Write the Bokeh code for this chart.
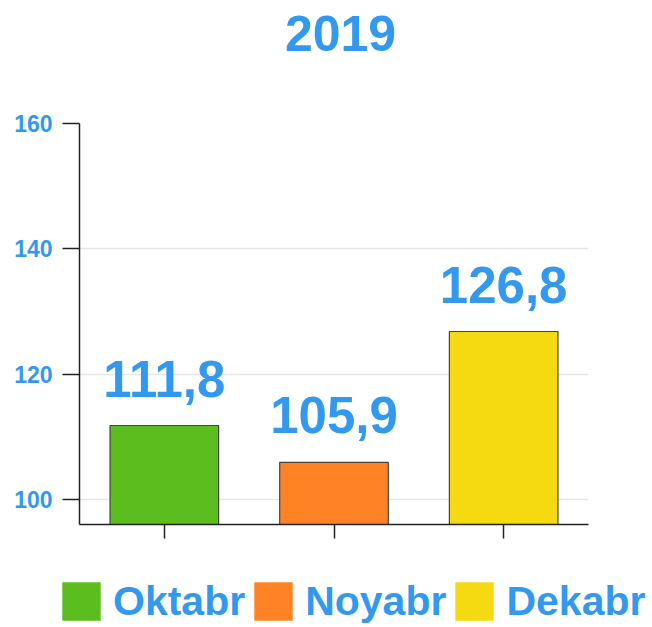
from bokeh.plotting import figure
from bokeh.models import ColumnDataSource, Legend, LegendItem, FactorRange, Label
from bokeh.layouts import column
from bokeh.core.properties import value
from bokeh.embed import file_html
from bokeh.resources import INLINE

# data
months = ["Oktabr", "Noyabr", "Dekabr"]
values = [111.8, 105.9, 126.8]
value_labels = ["111,8", "105,9", "126,8"]
colors = ["#5cbd1e", "#ff8225", "#f5da12"]
y_ticks = [100, 120, 140, 160]
title_text = "2019"

BLUE = "#3399ee"
FONT = "Liberation Sans"
W = 648

src = ColumnDataSource(dict(months=months, values=values, labels=value_labels, colors=colors))

# title strip
tt = figure(x_range=(0, W), y_range=(0, 100), width=W, height=100,
            output_backend="svg", toolbar_location=None, min_border=0,
            x_axis_location=None, y_axis_location=None, outline_line_color=None,
            frame_align=False)
tt.grid.visible = False
tt.add_layout(Label(x=340, y=67, text=title_text, text_align="center",
                    text_baseline="alphabetic", text_font=FONT,
                    text_font_size="50px", text_font_style="bold", text_color=BLUE))

# main chart
p = figure(x_range=FactorRange(*months, range_padding=0), y_range=(96, 160),
           width=W, height=465, output_backend="svg", toolbar_location=None,
           min_border_left=79, min_border_right=W - 588, min_border_top=23, min_border_bottom=41,
           frame_align=False)

p.outline_line_color = None
p.background_fill_color = "white"
p.border_fill_color = "white"

bars = p.vbar(x="months", top="values", bottom=96, width=0.64, source=src,
              fill_color="colors", line_color="#444444", line_width=1.2)

p.text(x="months", y="values", text="labels", source=src,
       text_align="center", text_baseline="alphabetic", y_offset=-47,
       text_font=value(FONT), text_font_size="51px", text_font_style="bold",
       text_color=BLUE)

p.yaxis.ticker = y_ticks
p.yaxis.major_tick_out = 17
p.yaxis.major_tick_in = 0
p.yaxis.minor_tick_line_color = None
p.yaxis.axis_line_color = "#222222"
p.yaxis.axis_line_width = 1.5
p.yaxis.major_tick_line_color = "#222222"
p.yaxis.major_tick_line_width = 1.5
p.yaxis.major_label_text_font = FONT
p.yaxis.major_label_text_font_size = "23px"
p.yaxis.major_label_text_font_style = "bold"
p.yaxis.major_label_text_color = BLUE
p.yaxis.major_label_standoff = 10

p.xaxis.major_tick_out = 14
p.xaxis.major_tick_in = 0
p.xaxis.axis_line_color = "#222222"
p.xaxis.axis_line_width = 1.5
p.xaxis.major_tick_line_color = "#222222"
p.xaxis.major_tick_line_width = 1.5
p.xaxis.major_label_text_font_size = "0px"
p.xaxis.major_label_text_alpha = 0

p.xgrid.grid_line_color = None
p.ygrid.grid_line_color = "#e6e6e6"
p.ygrid.grid_line_width = 1.5

# legend strip below the chart (proxy bars lie outside the strip's range)
lg = figure(x_range=FactorRange(*months), y_range=(1000, 1001),
            width=W, height=60, output_backend="svg", toolbar_location=None,
            min_border=0, x_axis_location=None, y_axis_location=None,
            outline_line_color=None, frame_align=False)
lg.grid.visible = False
lbars = lg.vbar(x="months", top="values", bottom="values", width=0.64, source=src,
                fill_color="colors", line_color=None)
items = [LegendItem(label=months[i], renderers=[lbars], index=i) for i in range(len(months))]
leg = Legend(items=items, orientation="horizontal", location=(57, 0),
             glyph_width=48, glyph_height=48,
             label_text_font=FONT, label_text_font_size="41px",
             label_text_font_style="bold", label_text_color=BLUE,
             label_standoff=8, spacing=4, padding=0, margin=0,
             border_line_color=None, background_fill_alpha=0)
lg.add_layout(leg, "center")

layout = column(tt, p, lg)
open("out.html", "w").write(file_html(layout, INLINE))
